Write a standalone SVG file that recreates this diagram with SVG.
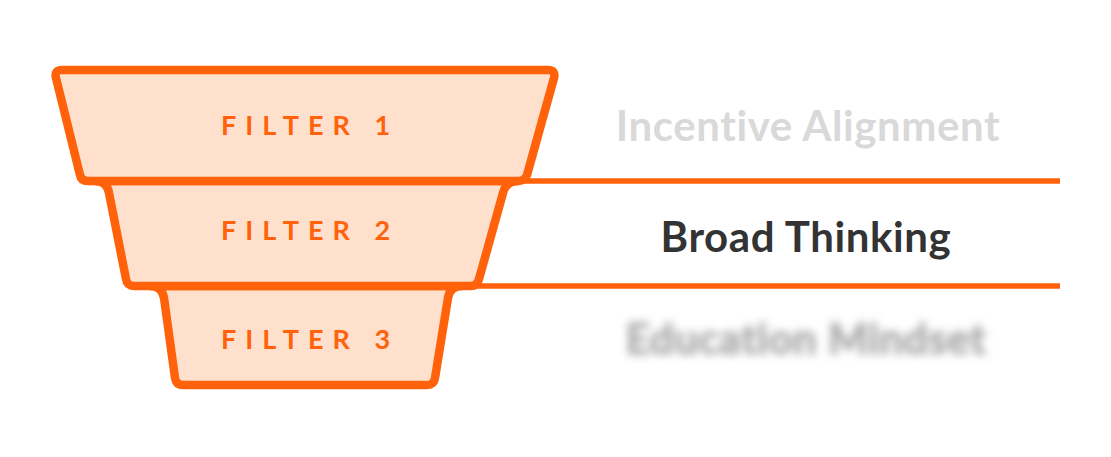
<svg xmlns="http://www.w3.org/2000/svg" width="1111" height="457" viewBox="0 0 1111 457">
<defs>
<style>
.cup{fill:#FEE0CC;stroke:#FF620A;stroke-width:8.5;stroke-linejoin:round}
.rule{stroke:#FF620A;stroke-width:5.5;fill:none}
.flt{font-family:Lato,"Open Sans",sans-serif;font-weight:700;font-size:27px;fill:#FF620A;letter-spacing:9px;text-anchor:middle}
.lbl{font-family:Lato,"Open Sans",sans-serif;font-weight:700;font-size:42px;letter-spacing:0.6px;text-anchor:middle}
</style>
<filter id="blur" x="-10%" y="-50%" width="120%" height="200%"><feGaussianBlur stdDeviation="4.5"/></filter>
</defs>
<rect width="1111" height="457" fill="#fff"/>
<g id="connectors">
<line class="rule" x1="522" y1="181" x2="1060" y2="181"/>
<line class="rule" x1="476" y1="286" x2="1060" y2="286"/>
</g>
<g id="filter3">
<path class="cup" d="M150,286 Q162,286 164,298 L175,378 Q176,385 183,385 L427,385 Q434,385 435,378 L448,298 Q450,286 462,286 Z"/>
<text class="flt" x="310" y="349">FILTER 3</text>
</g>
<g id="filter2">
<path class="cup" d="M95,181 Q107,181 109,193 L126,279 Q127,286 134,286 L471,286 Q477,286 479,279 L503,193 Q506,181 518,181 Z"/>
<text class="flt" x="310" y="240">FILTER 2</text>
</g>
<g id="filter1">
<path class="cup" d="M62,70 L548,70 Q556,70 554,78 L527,175 Q525,181 518,181 L88,181 Q81,181 80,175 L56,78 Q54,70 62,70 Z"/>
<text class="flt" x="310" y="135">FILTER 1</text>
</g>
<g id="label1"><text class="lbl" x="808" y="141" fill="#D9D9D9">Incentive Alignment</text></g>
<g id="label2"><text class="lbl" x="806" y="252" fill="#333333">Broad Thinking</text></g>
<g id="label3"><text class="lbl" x="806" y="354" fill="#ADADAD" stroke="#ADADAD" stroke-width="1.5" filter="url(#blur)">Education Mindset</text></g>
</svg>
